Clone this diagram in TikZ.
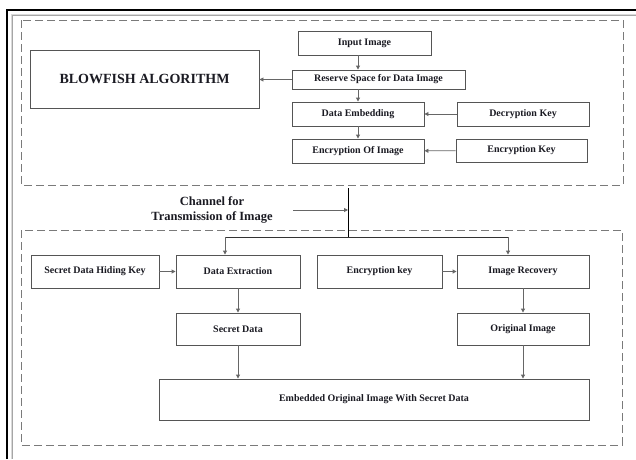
\documentclass[tikz,border=0pt]{standalone}
\usepackage{fontspec}
\setmainfont{Liberation Serif}
\usetikzlibrary{shapes,arrows.meta,positioning,calc}

\definecolor{boxline}{HTML}{555555}
\definecolor{arrline}{HTML}{666666}
\definecolor{dashline}{HTML}{7A7A7A}
\definecolor{txt}{HTML}{1A1A22}

\tikzset{
  blk/.style={draw=boxline, line width=0.9pt, fill=white, text=txt, inner sep=0pt,
    align=center, font=\bfseries\fontsize{10}{12}\selectfont},
  flow/.style={draw=arrline, line width=0.9pt, -{Triangle[length=4pt,width=4pt]}},
  grp/.style={draw=dashline, line width=0.9pt, dash pattern=on 8pt off 4pt}
}

\begin{document}
\begin{tikzpicture}[x=1pt,y=-1pt]
\useasboundingbox (0,0) rectangle (636,459);

% Outer frame
\draw[line width=2.5pt, black] (7,459) -- (7,10) -- (636,10);
\draw[line width=2pt, gray!70] (11.5,459) -- (11.5,14.5) -- (636,14.5);
\draw[line width=0.6pt, gray!30] (11.5,459) -- (11.5,14.5) -- (636,14.5);

% Dashed groups
\draw[grp] (21,20) rectangle (623,185);
\draw[grp] (21,230) rectangle (622,445);

% Sender side
\node[blk, minimum width=229pt, minimum height=58pt, font=\bfseries\fontsize{14}{16}\selectfont] (blowfish) at (144.5,79) {BLOWFISH ALGORITHM};
\node[blk, minimum width=133pt, minimum height=24pt] (input) at (364.5,43) {Input Image};
\node[blk, minimum width=173pt, minimum height=19pt] (reserve) at (378.5,79.5) {Reserve Space for Data Image};
\node[blk, minimum width=132pt, minimum height=24pt] (embed) at (358,114) {Data Embedding};
\node[blk, minimum width=132pt, minimum height=24pt] (encimg) at (358,151) {Encryption Of Image};
\node[blk, minimum width=132pt, minimum height=24pt] (deckey) at (523,114) {Decryption Key};
\node[blk, minimum width=131pt, minimum height=23pt] (enckey) at (521.5,150.5) {Encryption Key};

\draw[flow] (input.south -| embed) -- (reserve.north -| embed);
\draw[flow] (reserve.south -| embed) -- (embed.north);
\draw[flow] (embed) -- (encimg);
\draw[flow] (reserve.west) -- (reserve.west -| blowfish.east);
\draw[flow] (deckey) -- (embed);
\draw[flow] (enckey) -- (encimg);

% Channel
\node[text=txt, align=center, font=\bfseries\fontsize{12.5}{15}\selectfont] (chan) at (212,209.5) {Channel for\\Transmission of Image};
\coordinate (chtop) at (348,188);
\coordinate (chmid) at (348,210);
\coordinate (chbot) at (348,237);
\coordinate (splitl) at (225,237);
\coordinate (splitr) at (508,237);
\draw[line width=1pt, black] (chtop) -- (chbot);
\draw[flow] ([xshift=17pt]chan.east |- chmid) -- (chmid);
\draw[line width=1pt, black!80] (splitl) -- (splitr);

% Receiver side
\node[blk, minimum width=128pt, minimum height=33pt] (hidekey) at (95,271.5) {Secret Data Hiding Key};
\node[blk, minimum width=124pt, minimum height=33pt] (extract) at (238,271.5) {Data Extraction};
\node[blk, minimum width=125pt, minimum height=33pt] (enckeyb) at (379.5,271.5) {Encryption key};
\node[blk, minimum width=132pt, minimum height=33pt] (recover) at (523,271.5) {Image Recovery};
\node[blk, minimum width=124pt, minimum height=32pt] (secret) at (238,329) {Secret Data};
\node[blk, minimum width=132pt, minimum height=32pt] (original) at (523,329) {Original Image};
\node[blk, minimum width=430pt, minimum height=41pt] (merged) at (374,399.5) {Embedded Original Image With Secret Data};

\draw[flow] (splitl) -- (splitl |- extract.north);
\draw[flow] (splitr) -- (splitr |- recover.north);
\draw[flow] (hidekey) -- (extract);
\draw[flow] (enckeyb) -- (recover);
\draw[flow] (extract) -- (secret);
\draw[flow] (secret) -- (secret |- merged.north);
\draw[flow] (recover) -- (original);
\draw[flow] (original) -- (original |- merged.north);

\end{tikzpicture}
\end{document}
